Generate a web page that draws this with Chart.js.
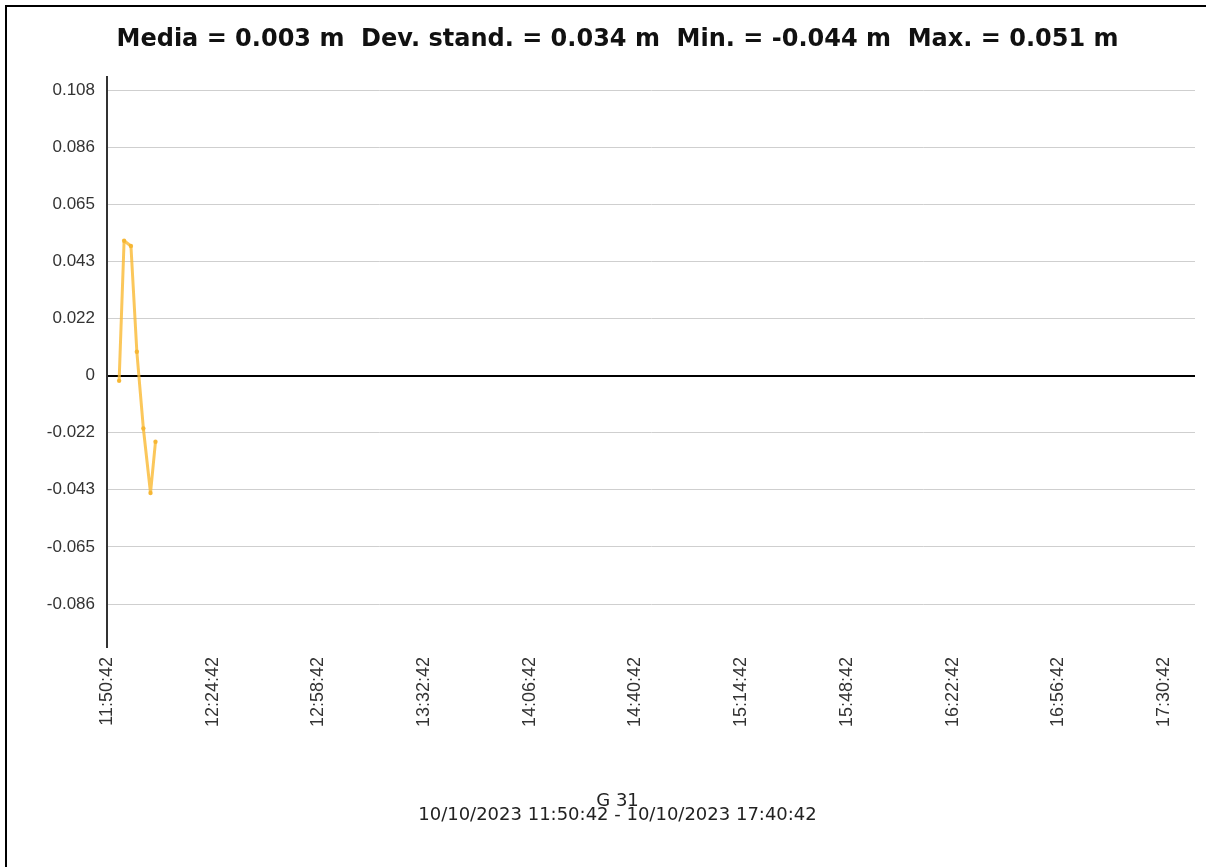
<!DOCTYPE html>
<html>
<head>
    <script src="https://cdn.jsdelivr.net/npm/chart.js"></script>
    <title>G 31</title>
    <style>
      body {
        margin: 0;
        background: #fff;
      }
      .frame {
        position: absolute;
        left: 5px;
        top: 5px;
        width: 1201px;
        height: 862px;
        border-top: 2px solid #000;
        border-left: 2px solid #000;
      }
      .wrap {
        position: absolute;
        left: 0;
        top: 0;
        width: 1206px;
        height: 867px;
      }
    </style>
</head>
<body>
    <div class="frame"></div>
    <div class="wrap"><canvas id="canvasChart"></canvas></div>
    <script>
      // readings (time of day, metres)
      const times = ['11:54:36', '11:56:12', '11:58:24', '12:00:18', '12:02:24', '12:04:42', '12:06:18'];
      const values = [-0.002, 0.051, 0.049, 0.009, -0.020, -0.0444, -0.025];

      const startTime = '11:50:42';
      const endTime = '17:40:42';
      const xTickLabels = ['11:50:42', '12:24:42', '12:58:42', '13:32:42', '14:06:42', '14:40:42',
                           '15:14:42', '15:48:42', '16:22:42', '16:56:42', '17:30:42'];
      const yTickValues = [0.108, 0.0864, 0.0648, 0.0432, 0.0216, 0, -0.0216, -0.0432, -0.0648, -0.0864];
      const yTickLabels = ['0.108', '0.086', '0.065', '0.043', '0.022', '0', '-0.022', '-0.043', '-0.065', '-0.086'];

      const titleText = 'Media = 0.003 m  Dev. stand. = 0.034 m  Min. = -0.044 m  Max. = 0.051 m';
      const footLines = ['G 31', '10/10/2023 11:50:42 - 10/10/2023 17:40:42'];

      function toMin(t) {
        let p = t.split(':').map(Number);
        let s = p[0] * 3600 + p[1] * 60 + p[2];
        let p0 = startTime.split(':').map(Number);
        return (s - (p0[0] * 3600 + p0[1] * 60 + p0[2])) / 60;
      }

      const points = times.map((t, i) => ({ x: toMin(t), y: values[i] }));
      const tickFont = { family: "'Liberation Sans', Arial, sans-serif", size: 17 };

      const ctx = document.getElementById('canvasChart').getContext('2d');
      const myChart = new Chart(ctx, {
        type: 'line',
        data: {
          datasets: [{
            data: points,
            borderColor: 'rgba(250, 185, 50, 0.8)',
            backgroundColor: 'rgba(245, 180, 45, 0.9)',
            borderWidth: 3,
            borderJoinStyle: 'round',
            borderCapStyle: 'round',
            pointRadius: 2.2,
            pointBorderWidth: 0,
            tension: 0,
            fill: false
          }]
        },
        options: {
          responsive: true,
          maintainAspectRatio: false,
          animation: false,
          layout: { padding: { left: 40, right: 11, top: 0, bottom: 0 } },
          plugins: {
            legend: { display: false },
            tooltip: { enabled: false },
            title: {
              display: true,
              text: titleText,
              color: '#111',
              font: { family: "'DejaVu Sans', sans-serif", size: 24, weight: 'bold', lineHeight: 1.2 },
              padding: { top: 25, bottom: 23 }
            },
            subtitle: {
              display: true,
              position: 'bottom',
              text: footLines,
              color: '#222',
              font: { family: "'DejaVu Sans', sans-serif", size: 18, lineHeight: 0.78 },
              padding: { top: 0, bottom: 45 }
            }
          },
          scales: {
            x: {
              type: 'linear',
              min: 0,
              max: toMin(endTime),
              afterBuildTicks: (scale) => {
                scale.ticks = xTickLabels.map(t => ({ value: toMin(t) }));
              },
              afterFit: (scale) => { scale.height = 146; },
              grid: { display: false, drawTicks: false },
              border: { display: false },
              ticks: {
                autoSkip: false,
                minRotation: 90,
                maxRotation: 90,
                padding: 9,
                color: '#333',
                font: { family: "'Liberation Sans', Arial, sans-serif", size: 18 },
                callback: (v, i) => xTickLabels[i]
              }
            },
            y: {
              min: -0.103,
              max: 0.113,
              afterBuildTicks: (scale) => {
                scale.ticks = yTickValues.map(v => ({ value: v }));
              },
              afterFit: (scale) => { scale.width = 67; },
              grid: {
                drawTicks: false,
                color: (c) => c.tick && c.tick.value === 0 ? '#000' : '#cfcfcf',
                lineWidth: (c) => c.tick && c.tick.value === 0 ? 2 : 1
              },
              border: { display: true, color: '#333', width: 2 },
              ticks: {
                padding: 12,
                color: '#333',
                font: tickFont,
                callback: (v, i) => yTickLabels[i]
              }
            }
          }
        }
      });
    </script>
</body>
</html>
